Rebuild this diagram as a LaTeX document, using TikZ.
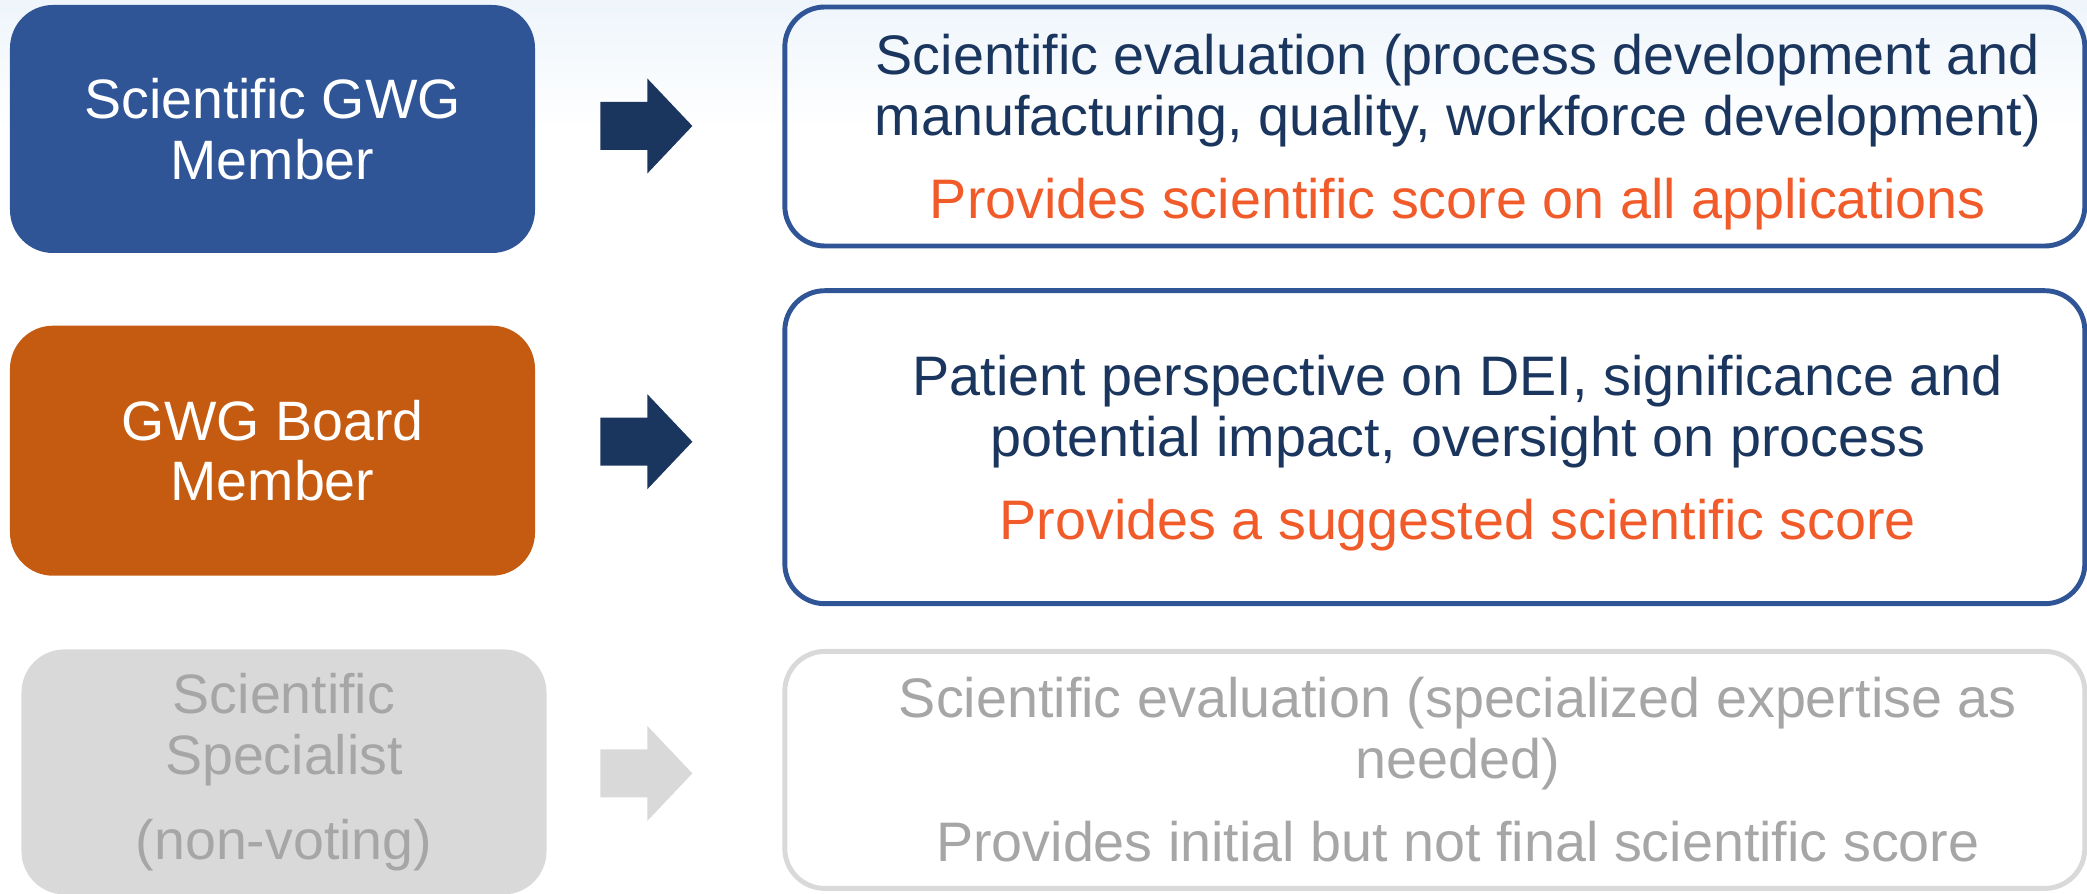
\documentclass[tikz,border=0pt]{standalone}
\usepackage{fontspec}
\setmainfont{Liberation Sans}
\usepackage{tikz}
\usetikzlibrary{positioning,calc}
\usepackage{xcolor}
\definecolor{RoleBlue}{HTML}{2F5597}
\definecolor{RoleOrange}{HTML}{C55A11}
\definecolor{RoleGray}{HTML}{D9D9D9}
\definecolor{Navy}{HTML}{1B365E}
\definecolor{Flame}{HTML}{F15A29}
\definecolor{Faded}{HTML}{A6A6A6}
\definecolor{Tint}{HTML}{EEF5FB}
\tikzset{
 rolebox/.style={rounded corners=0.86cm, minimum width=10.5cm, minimum height=4.96cm, align=center, inner sep=0pt, font=\fontsize{31.6}{34.6}\selectfont},
 dutybox/.style={draw=RoleBlue, line width=2.8pt, rounded corners=0.8cm, minimum width=26cm, inner sep=0pt},
 dutytext/.style={align=center, text=Navy, inner sep=0pt, font=\fontsize{31.7}{34.7}\selectfont},
 blockarrow/.style={fill=Navy}
}

\begin{document}
\begin{tikzpicture}
\useasboundingbox (0,0) rectangle (41.74,-17.88);
\shade[top color=Tint, bottom color=white] (0,0) rectangle (41.74,-2.6);
% roles
\node[rolebox,fill=RoleBlue,text=white] (l1) at (5.45,-2.58) {Scientific GWG\\Member};
\node[rolebox,fill=RoleOrange,text=white,minimum height=5cm,below=1.44cm of l1] (l2) {GWG Board\\Member};
\node[rolebox,fill=RoleGray,text=Faded,minimum height=4.9cm,below=1.46cm of l2,xshift=0.23cm] (l3) {Scientific\\Specialist\\[13.7pt](non-voting)};
% duties
\node[dutybox,minimum height=4.78cm,right=4.94cm of l1,yshift=0.05cm] (r1) {};
\node[dutybox,minimum height=6.26cm,right=4.94cm of l2,yshift=0.07cm] (r2) {};
\node[dutybox,draw=RoleGray,minimum height=4.74cm,right=4.71cm of l3,yshift=0.04cm] (r3) {};
\node[dutytext] (t1) at ([xshift=0.46cm,yshift=-0.12cm]r1.center) {Scientific evaluation (process development and\\manufacturing, quality, workforce development)\\[12.5pt]\textcolor{Flame}{Provides scientific score on all applications}};
\node[dutytext] (t2) at ([xshift=0.46cm,yshift=-0.12cm]r2.center) {Patient perspective on DEI, significance and\\potential impact, oversight on process\\[12.5pt]\textcolor{Flame}{Provides a suggested scientific score}};
\node[dutytext,text=Faded] (t3) at ([xshift=0.46cm]r3.center) {Scientific evaluation (specialized expertise as\\needed)\\[12.5pt]Provides initial but not final scientific score};
% arrows
\fill[blockarrow] ([xshift=1.3cm,yshift=0.06cm]l1.east) ++(0,0.48) -- ++(0.94,0) -- ++(0,0.47) -- ++(0.9,-0.95) -- ++(-0.9,-0.95) -- ++(0,0.47) -- ++(-0.94,0) -- cycle;
\fill[blockarrow] ([xshift=1.3cm,yshift=0.18cm]l2.east) ++(0,0.48) -- ++(0.94,0) -- ++(0,0.47) -- ++(0.9,-0.95) -- ++(-0.9,-0.95) -- ++(0,0.47) -- ++(-0.94,0) -- cycle;
\fill[blockarrow,fill=RoleGray] ([xshift=1.07cm,yshift=-0.03cm]l3.east) ++(0,0.48) -- ++(0.94,0) -- ++(0,0.47) -- ++(0.9,-0.95) -- ++(-0.9,-0.95) -- ++(0,0.47) -- ++(-0.94,0) -- cycle;
\end{tikzpicture}
\end{document}
